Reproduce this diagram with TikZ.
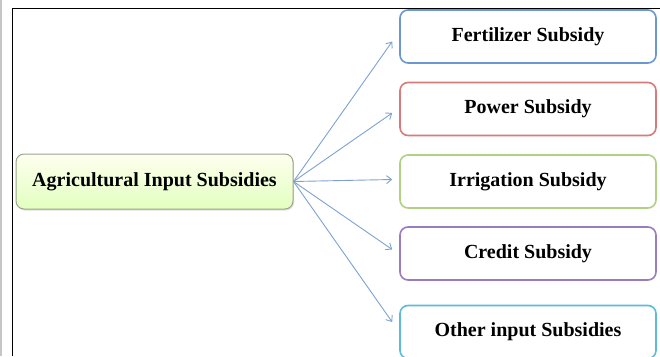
\documentclass[tikz,border=0pt]{standalone}
\usepackage{fontspec}
\setmainfont{Liberation Serif}
\usetikzlibrary{arrows.meta,shadows}

\definecolor{linkblue}{HTML}{7EA2D0}
\definecolor{rootedge}{HTML}{9AA58A}
\definecolor{fertcol}{HTML}{6C98D0}
\definecolor{powercol}{HTML}{D77A79}
\definecolor{irrigcol}{HTML}{B2D084}
\definecolor{creditcol}{HTML}{9A7DC0}
\definecolor{othercol}{HTML}{5CBCD8}

\tikzset{
  subbox/.style={draw=#1, line width=1.6pt, rounded corners=8pt, fill=white,
    minimum width=256pt, minimum height=53pt, font=\fontsize{20}{23}\selectfont\bfseries},
  rootbox/.style={draw=rootedge, line width=1pt, rounded corners=8pt,
    top color=green!4!yellow!6, bottom color=green!45!yellow!25,
    drop shadow={opacity=0.25,shadow xshift=1pt,shadow yshift=-1.5pt},
    minimum width=277pt, minimum height=55pt, font=\fontsize{20}{23}\selectfont\bfseries},
  link/.style={draw=linkblue, line width=0.9pt}
}

\begin{document}
\begin{tikzpicture}[x=1pt,y=-1pt,>={Straight Barb[length=5pt,width=8pt]}]

\useasboundingbox (0,0) rectangle (660,356);
\fill[color=gray!45] (0,0) rectangle (2,356);
\draw[line width=1.5pt] (12.5,356)--(12.5,8.3)--(660,8.3);

\node[rootbox] (root) at (154.5,181.5) {Agricultural Input Subsidies};

\node[subbox=fertcol] (fert) at (528,36.5) {Fertilizer Subsidy};
\node[subbox=powercol] (power) at (528,109) {Power Subsidy};
\node[subbox=irrigcol] (irrig) at (528,181.5) {Irrigation Subsidy};
\node[subbox=creditcol] (credit) at (528,253.5) {Credit Subsidy};
\node[subbox=othercol] (other) at (528,332) {Other input Subsidies};

\foreach \n/\s in {fert/-5,power/-4,irrig/2,credit/4,other/10}{
	\draw[link,->] (root.east) -- ([xshift=-7pt,yshift=\s pt]\n.west);
}

\end{tikzpicture}
\end{document}
